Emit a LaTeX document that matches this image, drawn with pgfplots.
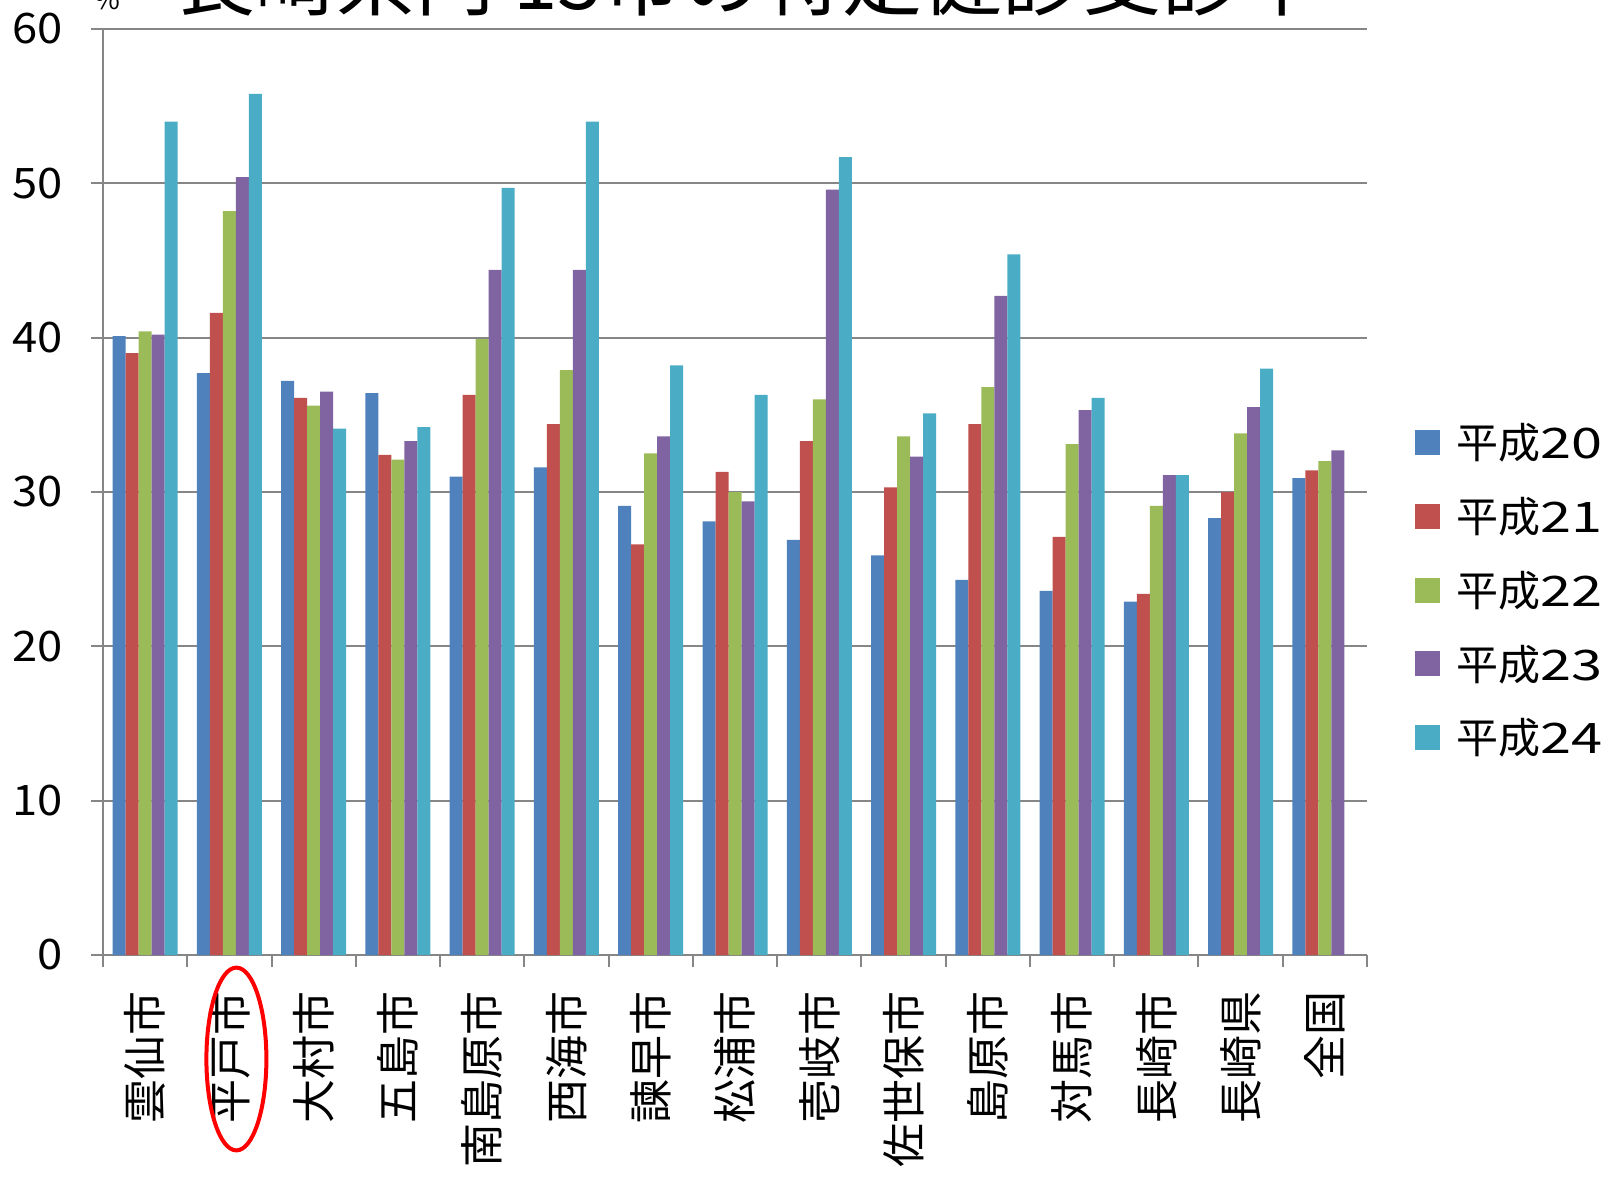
\documentclass[border=0pt]{standalone}
\usepackage{fontspec}
\setmainfont{Noto Sans CJK JP}
\usepackage{pgfplots}
\pgfplotsset{compat=1.18}
\definecolor{s20}{HTML}{4F81BD}
\definecolor{s21}{HTML}{C0504D}
\definecolor{s22}{HTML}{9BBB59}
\definecolor{s23}{HTML}{8064A2}
\definecolor{s24}{HTML}{4BACC6}
\definecolor{gridgray}{RGB}{134,134,134}
\newcommand{\widedig}[1]{{\addfontfeature{FakeStretch=1.33}#1}}
\begin{document}
\begin{tikzpicture}
\begin{axis}[
  scale only axis, width=632bp, height=463bp,
  at={(0,0)}, anchor=south west,
  xmin=0.5, xmax=15.5, ymin=0, ymax=60,
  ybar=0pt, bar width=6.5bp,
  clip=false,
  axis x line=bottom, axis y line=left,
  axis line style={-, draw=gridgray, line width=1bp},
  ymajorgrids, grid style={draw=gridgray, line width=1bp},
  ytick={0,10,...,60},
  tick align=outside, major tick length=6bp,
  tick style={draw=gridgray, line width=1bp},
  xtick={1,...,15},
  xtick style={draw=none},
  xticklabels={雲仙市,平戸市,大村市,五島市,南島原市,西海市,諫早市,松浦市,壱岐市,佐世保市,島原市,対馬市,長崎市,長崎県,全国},
  xticklabel style={rotate=90, anchor=east, inner sep=0pt, xshift=-12bp, font=\fontsize{22bp}{24bp}\selectfont},
  extra x ticks={0.5,1.5,...,15.5},
  extra x tick labels={},
  extra x tick style={grid=none, xtick style={draw=gridgray, line width=1bp}},
  yticklabel style={anchor=east, inner sep=0pt, xshift=-14bp, font=\fontsize{21bp}{24bp}\selectfont\addfontfeature{FakeStretch=1.08}},
  /pgf/number format/assume math mode=true,
  legend image code/.code={\fill[#1] (0bp,-6.25bp) rectangle (12.5bp,6.25bp);},
  legend style={draw=none, at={(rel axis cs:1.038,0.394)}, anchor=west, inner sep=0pt,
    font=\fontsize{21bp}{24bp}\selectfont, row sep=17.75bp, column sep=8bp,
    nodes={inner sep=0pt, anchor=west}},
  legend cell align=left,
]
\addplot[fill=s20, draw=none] coordinates {(1,40.1) (2,37.7) (3,37.2) (4,36.4) (5,31.0) (6,31.6) (7,29.1) (8,28.1) (9,26.9) (10,25.9) (11,24.3) (12,23.6) (13,22.9) (14,28.3) (15,30.9)};
\addplot[fill=s21, draw=none] coordinates {(1,39.0) (2,41.6) (3,36.1) (4,32.4) (5,36.3) (6,34.4) (7,26.6) (8,31.3) (9,33.3) (10,30.3) (11,34.4) (12,27.1) (13,23.4) (14,30.0) (15,31.4)};
\addplot[fill=s22, draw=none] coordinates {(1,40.4) (2,48.2) (3,35.6) (4,32.1) (5,39.9) (6,37.9) (7,32.5) (8,30.0) (9,36.0) (10,33.6) (11,36.8) (12,33.1) (13,29.1) (14,33.8) (15,32.0)};
\addplot[fill=s23, draw=none] coordinates {(1,40.2) (2,50.4) (3,36.5) (4,33.3) (5,44.4) (6,44.4) (7,33.6) (8,29.4) (9,49.6) (10,32.3) (11,42.7) (12,35.3) (13,31.1) (14,35.5) (15,32.7)};
\addplot[fill=s24, draw=none] coordinates {(1,54.0) (2,55.8) (3,34.1) (4,34.2) (5,49.7) (6,54.0) (7,38.2) (8,36.3) (9,51.7) (10,35.1) (11,45.4) (12,36.1) (13,31.1) (14,38.0)};
\legend{平成\widedig{20},平成\widedig{21},平成\widedig{22},平成\widedig{23},平成\widedig{24}}
\draw[red, line width=2bp] (axis cs:2,0) ++(3.5bp,-52bp) ellipse [x radius=15bp, y radius=45.7bp];
\end{axis}
\node[anchor=base west, inner sep=0pt, font=\fontsize{40bp}{44bp}\selectfont] at (36bp,472.5bp) {長崎県内 13市の特定健診受診率};
\node[anchor=south, inner sep=0pt, font=\fontsize{14bp}{16bp}\selectfont] at (2bp,472.5bp) {\%};
\pgfresetboundingbox
\path[use as bounding box] (-51.5bp,-111.5bp) rectangle (757.5bp,477.5bp);
\end{tikzpicture}
\end{document}
